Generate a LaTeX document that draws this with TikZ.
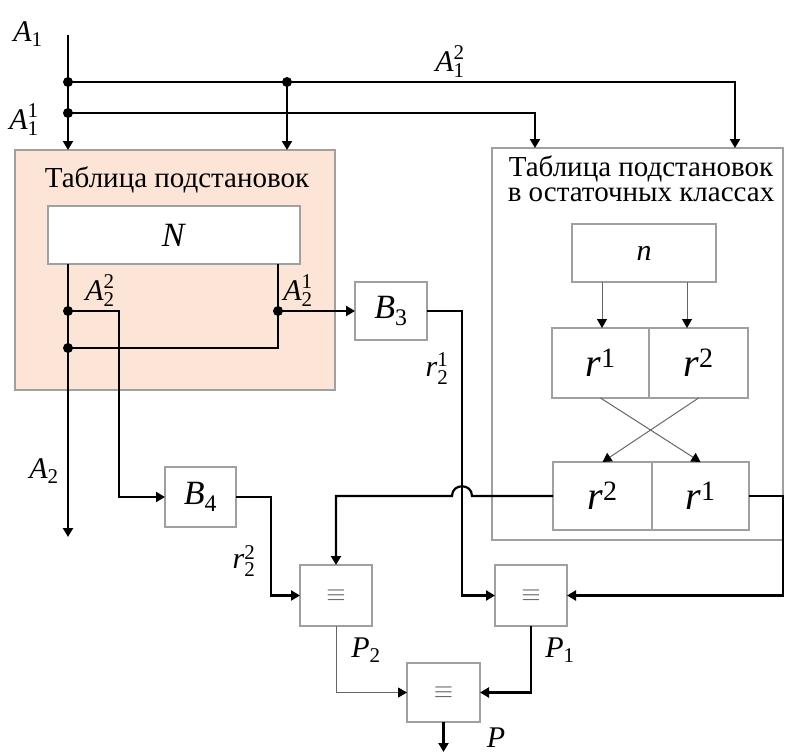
\documentclass[tikz,border=0pt]{standalone}
\usepackage{amsmath}
\usepackage{fontspec}
\setmainfont{Liberation Serif}
\usetikzlibrary{arrows.meta}
\definecolor{peach}{HTML}{FCE4D6}
\definecolor{edge}{HTML}{A0A0A0}

\begin{document}
\begin{tikzpicture}[x=1pt, y=-1pt,
  >={Triangle[length=9pt,width=10pt,color=black]},
  box/.style={rectangle, draw=edge, line width=1.2pt, fill=white, inner sep=0pt, outer sep=0pt},
  wire/.style={line width=2.2pt},
  fine/.style={line width=1pt, draw=gray!80!black},
  lab/.style={font=\fontsize{30}{34}\selectfont},
  big/.style={font=\fontsize{34}{38}\selectfont},
  rcell/.style={font=\fontsize{40}{44}\selectfont},
  eqs/.style={text=gray!70!black, font=\fontsize{28}{32}\selectfont},
  title/.style={font=\fontsize{29}{25}\selectfont, align=center}]
\useasboundingbox (0,0) rectangle (786,753);

\node[box, fill=peach, minimum width=320pt, minimum height=240pt] (tab1) at (175,270) {};
\node[title] (tab1name) at (177,180) {Таблица подстановок};
\node[box, minimum width=252pt, minimum height=58pt, big] (N) at (174,235) {\textit{N}};

\node[box, minimum width=291pt, minimum height=392pt] (tab2) at (637.5,344) {};
\node[title] (tab2name) at (641,179) {Таблица подстановок\\в остаточных классах};
\node[box, minimum width=144pt, minimum height=58pt, font=\fontsize{30}{34}\selectfont] (n) at (644,253) {\textit{n}};
\node[box, minimum width=97pt, minimum height=70pt, rcell] (ra1) at (600.5,363) {$\textit{r}^{\text{1}}$};
\node[box, minimum width=99pt, minimum height=70pt, rcell] (ra2) at (698.5,363) {$\textit{r}^{\text{2}}$};
\node[box, minimum width=99pt, minimum height=68pt, rcell] (rb2) at (602.5,496) {$\textit{r}^{\text{2}}$};
\node[box, minimum width=97pt, minimum height=68pt, rcell] (rb1) at (700.5,496) {$\textit{r}^{\text{1}}$};

\node[box, minimum width=72pt, minimum height=58pt, big] (B3) at (391,311) {$\textit{B}_{\text{3}}$};
\node[box, minimum width=71pt, minimum height=60pt, big] (B4) at (200.5,497) {$\textit{B}_{\text{4}}$};
\node[box, minimum width=72pt, minimum height=61pt, eqs] (eq2) at (336,595.5) {$\equiv$};
\node[box, minimum width=72pt, minimum height=61pt, eqs] (eq1) at (531,595.5) {$\equiv$};
\node[box, minimum width=73pt, minimum height=59pt, eqs] (eq) at (443.5,692.5) {$\equiv$};

\coordinate (a1) at (68,35);
\coordinate (d1) at (68,82);
\coordinate (d2) at (68,113);
\coordinate (d3) at (287,82);
\coordinate (in1) at (735,0);
\coordinate (in2) at (535,0);
\coordinate (d4) at (68,311);
\coordinate (d5) at (68,348);
\coordinate (d6) at (278,311);
\coordinate (a2) at (68,537);
\coordinate (k1) at (119,497);
\coordinate (hopr) at (472,496);
\coordinate (hopl) at (452,496);
\coordinate (pout) at (443.5,752);

\draw[wire,->] (a1) -- (a1 |- tab1.north);
\draw[wire,->] (d1) -| (in1 |- tab2.north);
\draw[wire,->] (d2) -| (in2 |- tab2.north);
\draw[wire,->] (d3) -- (d3 |- tab1.north);

\draw[wire,->] (N.south -| a1) -- (a2);
\draw[wire] (N.south -| d6) |- (d5);
\draw[wire,->] (d6) -- (B3.west);
\draw[wire,->] (d4) -| (k1) -- (B4.west);
\draw[wire,->] (B4.east) -- ++(35,0) |- (eq2.west);
\draw[wire,->] (B3.east) -- ++(35,0) |- (eq1.west);
\draw[wire,->] (rb1.east) -- ++(34,0) |- (eq1.east);
\draw[wire,->] (rb2.west) -- (hopr) .. controls +(0,-13) and +(0,-13) .. (hopl) -| (eq2.north);
\draw[wire,->] (eq1.south) |- (eq.east);
\draw[fine,->] (eq2.south) |- (eq.west);
\draw[wire,->] (eq.south) -- (pout);

\draw[fine,->] ([xshift=-42pt]n.south) -- ([xshift=-42pt]n.south |- ra1.north);
\draw[fine,->] ([xshift=43pt]n.south) -- ([xshift=43pt]n.south |- ra2.north);
\draw[fine,->] (ra1.south) -- (rb1.north);
\draw[fine,->] (ra2.south) -- (rb2.north);

\foreach \p in {d1,d2,d3,d4,d5,d6}
  \fill (\p) circle (5pt);

\node[lab] (lA1) at (28,34) {$\textit{A}_{\text{1}}$};
\node[lab] (lA11) at (24,120) {$\textit{A}_{\text{1}}^{\text{1}}$};
\node[lab] (lA12) at (450,62) {$\textit{A}_{\text{1}}^{\text{2}}$};
\node[lab] (lA22) at (100,291) {$\textit{A}_{\text{2}}^{\text{2}}$};
\node[lab] (lA21) at (298,291) {$\textit{A}_{\text{2}}^{\text{1}}$};
\node[lab] (lA2) at (44,471) {$\textit{A}_{\text{2}}$};
\node[lab] (lr21) at (437,369) {$\textit{r}_{\text{2}}^{\text{1}}$};
\node[lab] (lr22) at (244,561) {$\textit{r}_{\text{2}}^{\text{2}}$};
\node[lab] (lP2) at (366,650) {$\textit{P}_{\text{2}}$};
\node[lab] (lP1) at (560,650) {$\textit{P}_{\text{1}}$};
\node[lab] (lP) at (496,738) {\textit{P}};
\end{tikzpicture}
\end{document}
